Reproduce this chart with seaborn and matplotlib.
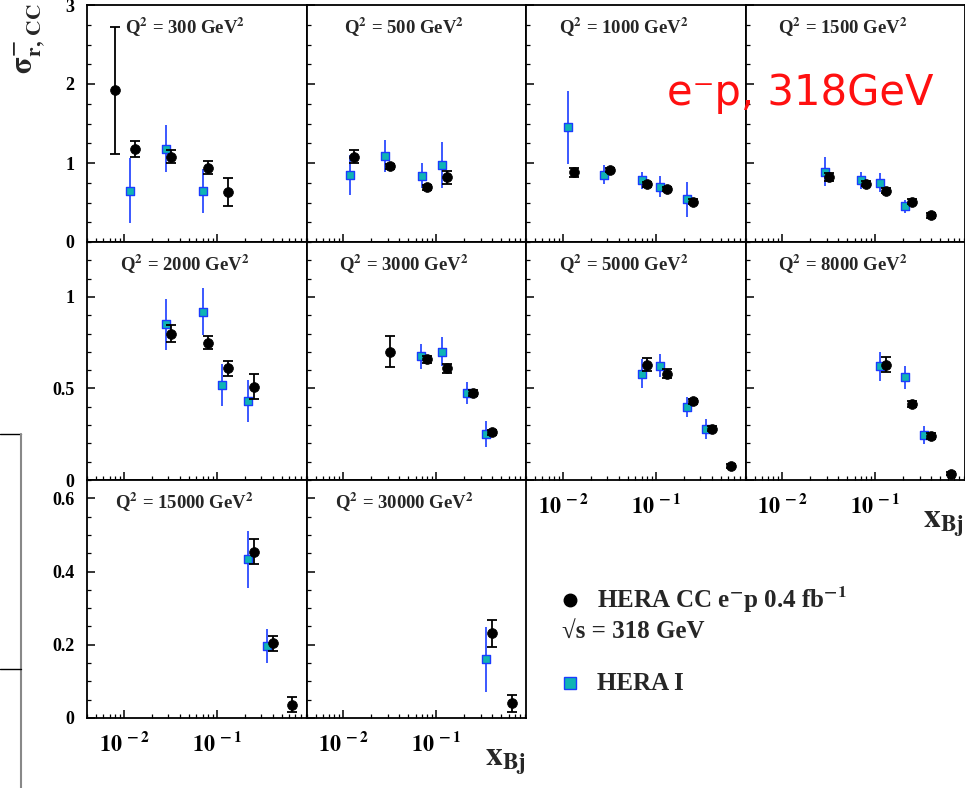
import numpy as np
import pandas as pd
import matplotlib
matplotlib.use("Agg")
import matplotlib.pyplot as plt
import seaborn as sns
from matplotlib.ticker import FixedLocator, MultipleLocator, LogLocator, NullFormatter, FixedFormatter
from matplotlib.lines import Line2D

# ---------------- data ----------------
q2_bins = [300, 500, 1000, 1500, 2000, 3000, 5000, 8000, 15000, 30000]

# HERA CC e-p 0.4 fb^-1 (black circles)
new_q2 = [300, 300, 300, 300, 300,
          500, 500, 500, 500,
          1000, 1000, 1000, 1000, 1000,
          1500, 1500, 1500, 1500, 1500,
          2000, 2000, 2000, 2000,
          3000, 3000, 3000, 3000, 3000,
          5000, 5000, 5000, 5000, 5000,
          8000, 8000, 8000, 8000,
          15000, 15000, 15000,
          30000, 30000]
new_x = [0.008, 0.013, 0.032, 0.08, 0.13,
         0.013, 0.032, 0.08, 0.13,
         0.013, 0.032, 0.08, 0.13, 0.25,
         0.032, 0.08, 0.13, 0.25, 0.4,
         0.032, 0.08, 0.13, 0.25,
         0.032, 0.08, 0.13, 0.25, 0.4,
         0.08, 0.13, 0.25, 0.4, 0.65,
         0.13, 0.25, 0.4, 0.65,
         0.25, 0.4, 0.65,
         0.4, 0.65]
new_sig = [1.92, 1.18, 1.08, 0.94, 0.63,
           1.08, 0.96, 0.69, 0.82,
           0.88, 0.91, 0.73, 0.67, 0.51,
           0.82, 0.74, 0.65, 0.51, 0.34,
           0.80, 0.75, 0.61, 0.51,
           0.70, 0.66, 0.61, 0.475, 0.26,
           0.63, 0.58, 0.43, 0.28, 0.075,
           0.63, 0.415, 0.24, 0.035,
           0.454, 0.204, 0.036,
           0.231, 0.040]
new_err = [0.80, 0.10, 0.085, 0.085, 0.175,
           0.08, 0.03, 0.03, 0.08,
           0.06, 0.03, 0.03, 0.03, 0.03,
           0.05, 0.03, 0.03, 0.03, 0.03,
           0.045, 0.035, 0.04, 0.07,
           0.085, 0.02, 0.025, 0.015, 0.015,
           0.035, 0.025, 0.015, 0.015, 0.01,
           0.04, 0.015, 0.015, 0.01,
           0.034, 0.02, 0.02,
           0.036, 0.023]

# HERA I (blue/teal squares)
old_q2 = [300, 300, 300,
          500, 500, 500, 500,
          1000, 1000, 1000, 1000, 1000,
          1500, 1500, 1500, 1500,
          2000, 2000, 2000, 2000,
          3000, 3000, 3000, 3000,
          5000, 5000, 5000, 5000,
          8000, 8000, 8000,
          15000, 15000,
          30000]
old_x = [0.0116, 0.0286, 0.0708,
         0.0117, 0.0281, 0.0693, 0.116,
         0.0114, 0.0279, 0.0715, 0.112, 0.217,
         0.0285, 0.0694, 0.111, 0.21,
         0.0286, 0.0708, 0.114, 0.218,
         0.069, 0.116, 0.212, 0.338,
         0.0715, 0.112, 0.217, 0.347,
         0.111, 0.21, 0.336,
         0.218, 0.343,
         0.338]
old_sig = [0.65, 1.18, 0.65,
           0.85, 1.09, 0.84, 0.97,
           1.45, 0.85, 0.78, 0.70, 0.54,
           0.89, 0.78, 0.75, 0.45,
           0.85, 0.92, 0.52, 0.43,
           0.675, 0.70, 0.475, 0.25,
           0.58, 0.625, 0.40, 0.28,
           0.62, 0.56, 0.245,
           0.433, 0.196,
           0.16]
old_err = [0.41, 0.30, 0.28,
           0.25, 0.20, 0.16, 0.29,
           0.46, 0.12, 0.11, 0.13, 0.22,
           0.18, 0.11, 0.12, 0.08,
           0.14, 0.13, 0.115, 0.115,
           0.07, 0.08, 0.06, 0.07,
           0.08, 0.065, 0.055, 0.055,
           0.08, 0.065, 0.05,
           0.078, 0.047,
           0.089]

row_ylims = [3.0, 1.3, 0.65]
row_major = [[0, 1, 2, 3], [0, 0.5, 1.0], [0, 0.2, 0.4, 0.6]]
row_major_lbl = [["0", "1", "2", "3"], ["0", "0.5", "1"], ["0", "0.2", "0.4", "0.6"]]
row_minor = [0.25, 0.1, 0.05]
x_major = [0.01, 0.1]
x_major_lbl = [r"$\mathbf{10^{\,-2}}$", r"$\mathbf{10^{\,-1}}$"]

df_new = pd.DataFrame({"q2": new_q2, "x": new_x, "sig": new_sig, "err": new_err})
df_old = pd.DataFrame({"q2": old_q2, "x": old_x, "sig": old_sig, "err": old_err})

# ---------------- style ----------------
sns.set_theme(style="white")
plt.rcParams['font.family'] = ['Liberation Serif', 'DejaVu Serif']
plt.rcParams['font.weight'] = 'bold'
plt.rcParams['mathtext.fontset'] = 'stix'

W, H = 965, 788
fig = plt.figure(figsize=(W / 100, H / 100), dpi=100)
fig.patch.set_facecolor("white")

col_left = [87, 306.5, 526, 745.5]
col_w = 219.5
row_top = [5, 242, 480]
row_h = [237, 238, 238]

SQ_FACE = "#10b4b4"
SQ_EDGE = "#1a3cff"

xlabel_panels = {6, 7, 8, 9}

for i, q2 in enumerate(q2_bins):
    r, c = i // 4, i % 4
    rect = [col_left[c] / W, 1 - (row_top[r] + row_h[r]) / H, col_w / W, row_h[r] / H]
    ax = fig.add_axes(rect)
    ax.set_facecolor("white")
    ax.set_xscale("log")
    ax.set_xlim(0.004, 0.92)
    ax.set_ylim(0, row_ylims[r])

    so = df_old[df_old.q2 == q2]
    sn = df_new[df_new.q2 == q2]

    ax.errorbar(so.x, so.sig, yerr=so.err, fmt="none", ecolor=SQ_EDGE,
                elinewidth=1.2, capsize=0, zorder=2)
    sns.scatterplot(data=so, x="x", y="sig", marker="s", s=40, color=SQ_FACE,
                    edgecolor=SQ_EDGE, linewidth=1.0, ax=ax, zorder=3, legend=False)
    ax.errorbar(sn.x, sn.sig, yerr=sn.err, fmt="none", ecolor="black",
                elinewidth=1.3, capsize=3.8, capthick=1.3, zorder=4)
    sns.scatterplot(data=sn, x="x", y="sig", marker="o", s=50, color="black",
                    edgecolor="black", linewidth=0.5, ax=ax, zorder=5, legend=False)

    ax.set_xlabel("")
    ax.set_ylabel("")

    for sp in ax.spines.values():
        sp.set_visible(True)
        sp.set_color("black")
        sp.set_linewidth(1.3)

    ax.xaxis.set_major_locator(FixedLocator(x_major))
    ax.xaxis.set_minor_locator(LogLocator(base=10, subs=np.arange(2, 10)))
    ax.xaxis.set_minor_formatter(NullFormatter())
    if i in xlabel_panels:
        ax.xaxis.set_major_formatter(FixedFormatter(x_major_lbl))
    else:
        ax.xaxis.set_major_formatter(NullFormatter())

    ax.yaxis.set_major_locator(FixedLocator(row_major[r]))
    ax.yaxis.set_minor_locator(MultipleLocator(row_minor[r]))
    if c == 0:
        ax.yaxis.set_major_formatter(FixedFormatter(row_major_lbl[r]))
    else:
        ax.yaxis.set_major_formatter(NullFormatter())

    ax.tick_params(axis="both", which="major", direction="in", length=6, width=1.1,
                   top=False, right=False, bottom=True, left=True, colors="black")
    ax.tick_params(axis="both", which="minor", direction="in", length=3.2, width=0.9,
                   top=False, right=False, bottom=True, left=True, colors="black")
    ax.tick_params(axis="y", which="major", labelsize=13, pad=9)
    ax.tick_params(axis="x", which="major", labelsize=16, pad=10)
    for t in ax.get_yticklabels() + ax.get_xticklabels():
        t.set_fontweight("bold")

    ax.text(0.445, 0.955, r"Q$^{\mathbf{2}}$ = %d GeV$^{\mathbf{2}}$" % q2,
            transform=ax.transAxes, ha="center", va="top", fontsize=13.5,
            fontweight="bold")

# y axis label
fig.text(30 / W, 1 - 3 / H, r"$\mathbf{\sigma^{-}_{r,\,CC}}$", rotation=90,
         ha="center", va="top", fontsize=22)

# x axis labels
fig.text(964 / W, 1 - 508 / H, r"$\mathbf{x_{Bj}}$", ha="right", va="top", fontsize=24)
fig.text(526 / W, 1 - 746 / H, r"$\mathbf{x_{Bj}}$", ha="right", va="top", fontsize=24)

# red annotation
fig.text(667 / W, 1 - 105 / H, "e\u207bp, 318GeV", color="#ff1010",
         fontsize=30, family="DejaVu Sans", fontweight="normal", va="baseline", ha="left")

# legend (manual)
fig.add_artist(Line2D([570 / W], [1 - 600 / H], transform=fig.transFigure,
                      marker="o", markersize=9, color="black", linestyle="none"))
fig.text(597 / W, 1 - 600 / H, r"HERA CC e$^{\mathbf{-}}$p 0.4 fb$^{\mathbf{-1}}$",
         ha="left", va="center", fontsize=18, fontweight="bold")
fig.text(562 / W, 1 - 631 / H, "\u221as = 318 GeV", ha="left", va="center",
         fontsize=18, fontweight="bold")
fig.add_artist(Line2D([570 / W], [1 - 683 / H], transform=fig.transFigure,
                      marker="s", markersize=9, markerfacecolor=SQ_FACE,
                      markeredgecolor=SQ_EDGE, markeredgewidth=1.0, linestyle="none"))
fig.text(597 / W, 1 - 683 / H, "HERA I", ha="left", va="center",
         fontsize=18, fontweight="bold")

# fragments of neighbouring figure on the left edge
fig.add_artist(Line2D([0, 21 / W], [1 - 434 / H, 1 - 434 / H], transform=fig.transFigure,
                      color="black", lw=1.0))
fig.add_artist(Line2D([21 / W, 21 / W], [1 - 434 / H, 0], transform=fig.transFigure,
                      color="#888888", lw=1.5))
fig.add_artist(Line2D([0, 21 / W], [1 - 669 / H, 1 - 669 / H], transform=fig.transFigure,
                      color="black", lw=1.0))

fig.savefig("out.png", dpi=100, facecolor="white")
